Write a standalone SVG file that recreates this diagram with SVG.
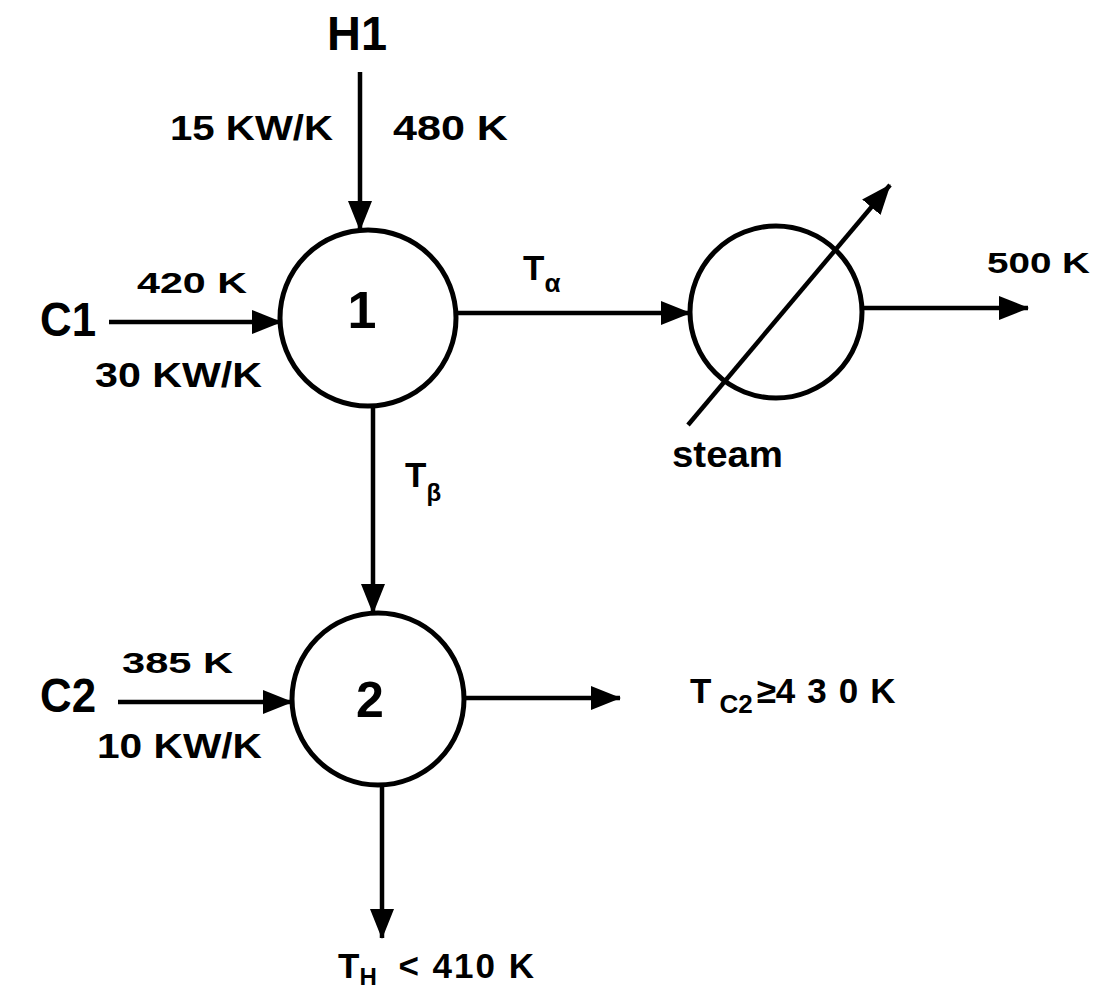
<svg xmlns="http://www.w3.org/2000/svg" width="1107" height="1003" viewBox="0 0 1107 1003">
<style>
text{font-family:"Liberation Sans",Arial,sans-serif;font-weight:bold;fill:#000}
.node{fill:none;stroke:#000;stroke-width:5}
.conn{stroke:#000;stroke-width:4.5;fill:none}
.big{font-size:48px}
.lbl{font-size:35px}
.sm{font-size:29px}
</style>
<defs>
<marker id="ah" markerUnits="userSpaceOnUse" markerWidth="30" markerHeight="24" refX="29" refY="12" orient="auto">
<path d="M0,0 L30,12 L0,24 z" fill="#000"/>
</marker>
</defs>
<g id="connectors">
<line class="conn" x1="360" y1="72" x2="360" y2="230" marker-end="url(#ah)"/>
<line class="conn" x1="109" y1="322" x2="281" y2="322" marker-end="url(#ah)"/>
<line class="conn" x1="456" y1="313" x2="690" y2="313" marker-end="url(#ah)"/>
<line class="conn" x1="862" y1="308" x2="1028" y2="308" marker-end="url(#ah)"/>
<line class="conn" x1="688" y1="425" x2="890" y2="185" marker-end="url(#ah)"/>
<line class="conn" x1="373" y1="405" x2="373" y2="613" marker-end="url(#ah)"/>
<line class="conn" x1="118" y1="702" x2="292" y2="702" marker-end="url(#ah)"/>
<line class="conn" x1="464" y1="698" x2="620" y2="698" marker-end="url(#ah)"/>
<line class="conn" x1="382" y1="785" x2="382" y2="938" marker-end="url(#ah)"/>
</g>
<g id="node-1">
<circle class="node" cx="368" cy="318" r="88"/>
<text x="362" y="328" font-size="52" text-anchor="middle">1</text>
</g>
<g id="node-2">
<circle class="node" cx="378" cy="699" r="86"/>
<text x="370" y="717" font-size="50" text-anchor="middle">2</text>
</g>
<g id="node-heater">
<circle class="node" cx="776" cy="312" r="86"/>
</g>
<g id="labels">
<text class="big" x="327" y="50" textLength="60" lengthAdjust="spacingAndGlyphs">H1</text>
<text class="lbl" x="170" y="140" textLength="163" lengthAdjust="spacingAndGlyphs">15  KW/K</text>
<text class="lbl" x="393" y="140" textLength="115" lengthAdjust="spacingAndGlyphs">480  K</text>
<text class="big" x="40" y="336" textLength="56" lengthAdjust="spacingAndGlyphs">C1</text>
<text class="sm" x="137" y="293" textLength="110" lengthAdjust="spacingAndGlyphs">420  K</text>
<text class="lbl" x="95" y="387" textLength="167" lengthAdjust="spacingAndGlyphs">30  KW/K</text>
<text class="lbl" x="523" y="280">T<tspan font-size="26" dy="12">α</tspan></text>
<text class="sm" x="987" y="273" textLength="103" lengthAdjust="spacingAndGlyphs">500  K</text>
<text x="672" y="467" font-size="37" textLength="111" lengthAdjust="spacingAndGlyphs">steam</text>
<text class="lbl" x="405" y="487">T<tspan font-size="24" dy="14">β</tspan></text>
<text class="big" x="40" y="712" textLength="56" lengthAdjust="spacingAndGlyphs">C2</text>
<text class="sm" x="122" y="673" textLength="111" lengthAdjust="spacingAndGlyphs">385  K</text>
<text class="lbl" x="97" y="758" textLength="165" lengthAdjust="spacingAndGlyphs">10  KW/K</text>
<text class="lbl" x="690" y="703">T<tspan font-size="26" dy="10" dx="8">C2</tspan><tspan dy="-10" dx="4">≥</tspan><tspan letter-spacing="12">430</tspan>K</text>
<text class="lbl" x="338" y="978">T<tspan font-size="24" dy="7">H</tspan><tspan dy="-7" dx="10" letter-spacing="2">  &lt; 410  K</tspan></text>
</g>
</svg>
